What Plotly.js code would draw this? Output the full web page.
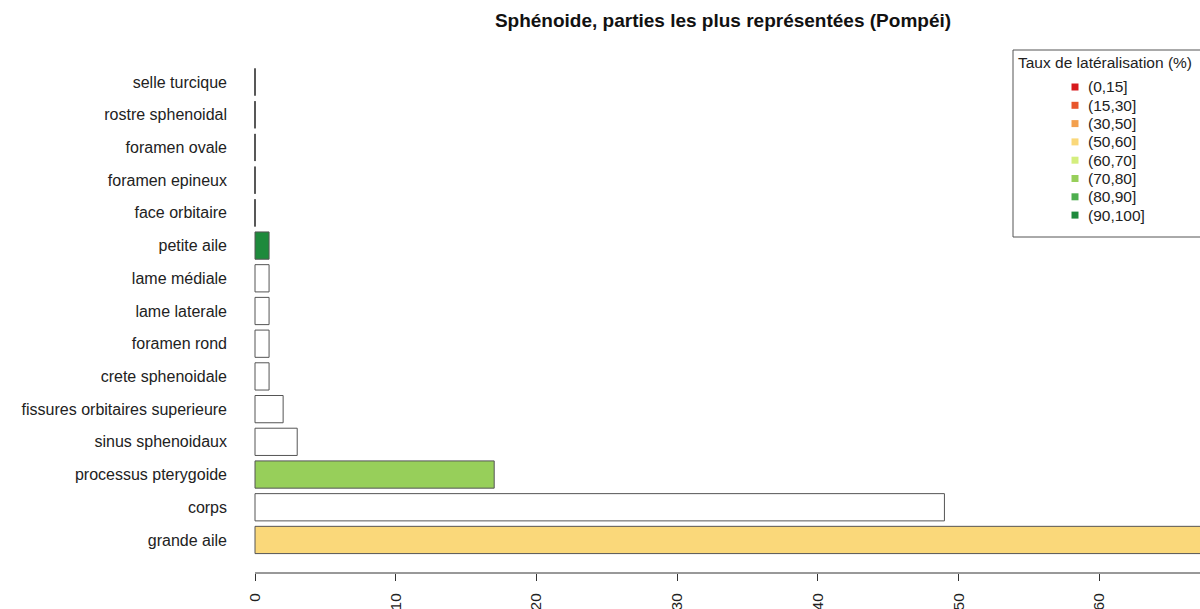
<!DOCTYPE html>
<html>
<head>
<meta charset="utf-8">
<script src="https://cdn.plot.ly/plotly-3.0.1.min.js"></script>
<style>html,body{margin:0;padding:0;background:#fff;overflow:hidden}#chart{width:1200px;height:609px}</style>
</head>
<body>
<div id="chart"></div>
<script>
// ---- Data (bottom to top) ----
const categories = ["grande aile","corps","processus pterygoide","sinus sphenoidaux","fissures orbitaires superieure","crete sphenoidale","foramen rond","lame laterale","lame médiale","petite aile","face orbitaire","foramen epineux","foramen ovale","rostre sphenoidal","selle turcique"];
const counts = [72, 49, 17, 3, 2, 1, 1, 1, 1, 1, 0, 0, 0, 0, 0];
const lateralClass = ["(50,60]", null, "(70,80]", null, null, null, null, null, null, "(90,100]", null, null, null, null, null];
const legendLabels = ["(0,15]","(15,30]","(30,50]","(50,60]","(60,70]","(70,80]","(80,90]","(90,100]"];
const legendColors = ["#D7191C","#E8562C","#F3A04E","#FAD87A","#D4EE7E","#97CF5A","#4DAE4E","#1E8A3C"];
const xTicks = [0,10,20,30,40,50,60,70];

const W = 1200, H = 609;
const M = {l:243, r:0, t:49, b:36};
const pw = W - M.l - M.r, ph = H - M.t - M.b;
const px = x => (x - M.l) / pw;
const py = y => (H - M.b - y) / ph;
const FONT = "Liberation Sans, Arial, sans-serif";

const colorFor = c => c === null ? "#FFFFFF" : legendColors[legendLabels.indexOf(c)];

const bars = {
  type: "bar", orientation: "h",
  x: counts, y: categories,
  width: 0.833,
  marker: {color: lateralClass.map(colorFor), line: {color: "#555555", width: 1}},
  hoverinfo: "x+y", showlegend: false
};
const zeroIdx = counts.map((v,i)=>v===0?i:-1).filter(i=>i>=0);
const zeroBars = {
  type: "scatter", mode: "markers",
  x: zeroIdx.map(i=>counts[i]), y: zeroIdx.map(i=>categories[i]),
  marker: {symbol: "line-ns-open", size: 19.3, color: "#444444", line: {color: "#444444", width: 1.3}},
  hoverinfo: "skip", showlegend: false, cliponaxis: false
};

const shapes = [
  {type:"line", xref:"x", yref:"paper", x0:0, x1:70, y0:0, y1:0, line:{color:"#333", width:1}},
  {type:"rect", xref:"paper", yref:"paper", x0:px(1013), x1:px(1215), y0:py(50), y1:py(237), line:{color:"#555", width:1}, fillcolor:"rgba(255,255,255,1)"}
];
const annotations = [
  {xref:"paper", yref:"paper", x:px(1016), y:py(62), xanchor:"left", yanchor:"middle", showarrow:false, text:"Taux de latéralisation (%)", font:{family:FONT, size:15.5, color:"#222"}}
];
legendLabels.forEach((lab,i)=>{
  const cy = 87 + i*18.3;
  shapes.push({type:"rect", xref:"paper", yref:"paper", x0:px(1071.5), x1:px(1078.5), y0:py(cy+3.5), y1:py(cy-3.5), line:{width:0}, fillcolor:legendColors[i]});
  annotations.push({xref:"paper", yref:"paper", x:px(1086), y:py(cy), xanchor:"left", yanchor:"middle", showarrow:false, text:lab, font:{family:FONT, size:15.5, color:"#222"}});
});

const layout = {
  width: W, height: H,
  margin: M,
  paper_bgcolor: "#fff", plot_bgcolor: "#fff",
  font: {family: FONT, size: 16, color: "#222"},
  title: {text: "<b>Sphénoide, parties les plus représentées (Pompéi)</b>", x: 723/W, xanchor: "center", y: 1 - 20/H, yanchor: "middle", font: {size: 19, color: "#111"}},
  xaxis: {range: [-12/14.07, (1200-255)/14.07], tickvals: xTicks, ticktext: xTicks.map(String), tickangle: -90, ticks: "outside", ticklen: 7, tickcolor: "#333", showgrid: false, zeroline: false, showline: false, ticklabelstandoff: 6, tickfont: {size: 15.5, color: "#222"}, fixedrange: true},
  yaxis: {type: "category", categoryorder: "array", categoryarray: categories, range: [-1.01, 15.01], showgrid: false, zeroline: false, showline: false, ticks: "", ticklabelstandoff: 15, tickfont: {size: 16, color: "#222"}, fixedrange: true},
  shapes: shapes, annotations: annotations,
  showlegend: false, bargap: 0.2
};
Plotly.newPlot("chart", [bars, zeroBars], layout, {displayModeBar: false, staticPlot: true});
</script>
</body>
</html>
